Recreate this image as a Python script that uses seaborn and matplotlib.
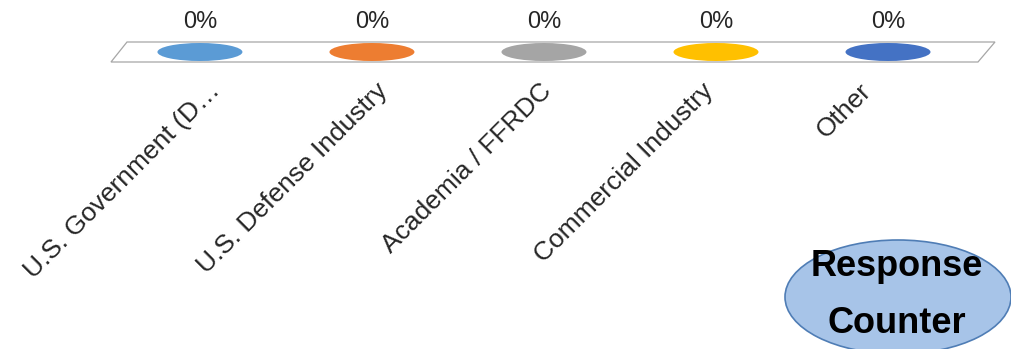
import numpy as np
import pandas as pd
import matplotlib
matplotlib.use("Agg")
import matplotlib.pyplot as plt
import matplotlib.transforms as mtransforms
from matplotlib.path import Path
from matplotlib.patches import Ellipse
import seaborn as sns

# ---- data ----
categories = ["U.S. Government (D…", "U.S. Defense Industry", "Academia / FFRDC",
              "Commercial Industry", "Other"]
values = [0.0, 0.0, 0.0, 0.0, 0.0]
colors = ["#5B9BD5", "#ED7D31", "#A5A5A5", "#FFC000", "#4472C4"]
counter_lines = ["Response", "Counter"]

sns.set_theme(style="white")
plt.rcParams["font.family"] = ["Liberation Sans", "DejaVu Sans"]

W, H, DPI = 1011, 349, 100
fig = plt.figure(figsize=(W / DPI, H / DPI), dpi=DPI)
fig.patch.set_facecolor("white")

# axes box = floor band (pixels x 111..995, y 42..62)
ax = fig.add_axes([111 / W, 1 - 62 / H, (995 - 111) / W, 20 / H])
for s in ax.spines.values():
    s.set_visible(False)
ax.set_facecolor("none")

# floor (skewed parallelogram)
ax.fill([-0.517, 4.523, 4.622, -0.424], [-1, -1, 1, 1], facecolor="white",
        edgecolor="#A6A6A6", lw=0.9, clip_on=False, zorder=0)

# elliptical marker for zero-height cylinders
circ = Path.unit_circle()
ell_path = Path(circ.vertices * np.array([1.0, 18 / 85]), circ.codes)
df = pd.DataFrame({"pos": np.arange(len(categories)), "value": values,
                   "category": categories})
sns.scatterplot(data=df, x="pos", y="value", hue="category", palette=colors,
                marker=ell_path, s=(85 * 72 / DPI) ** 2, linewidth=0,
                legend=False, ax=ax, zorder=3, clip_on=False)
ax.set_xlim(-0.517, 4.622)
ax.set_ylim(-1, 1)

for i, v in enumerate(values):
    ax.annotate(f"{v:.0%}", (i, v), xytext=(0, 30 * 72 / DPI),
                textcoords="offset points", ha="center", va="center",
                fontsize=17, color="#262626")

ax.set_xlabel("")
ax.set_ylabel("")
ax.set_yticks([])
ax.set_xticks(df["pos"])
ax.set_xticklabels(categories, rotation=45, ha="right", va="center",
                   rotation_mode="anchor", fontsize=19, color="#262626")
ax.tick_params(axis="x", length=0, pad=18)
label_shift_px = [16, 12, 4, -6, -21]
for lab, dx in zip(ax.get_xticklabels(), label_shift_px):
    off = mtransforms.ScaledTranslation(dx / DPI, 0, fig.dpi_scale_trans)
    lab.set_transform(lab.get_transform() + off)

# Response counter badge
fig.add_artist(Ellipse((898 / W, 1 - 297 / H), 226 / W, 114 / H,
                       transform=fig.transFigure, facecolor="#A7C4E8",
                       edgecolor="#4F7DB5", lw=1.2, zorder=5))
fig.text(897 / W, 1 - 276 / H, counter_lines[0], ha="center", va="baseline",
         fontsize=26, fontweight="bold", color="black", zorder=6)
fig.text(897 / W, 1 - 333 / H, counter_lines[1], ha="center", va="baseline",
         fontsize=26, fontweight="bold", color="black", zorder=6)

fig.savefig("out.png", dpi=DPI, facecolor="white")
